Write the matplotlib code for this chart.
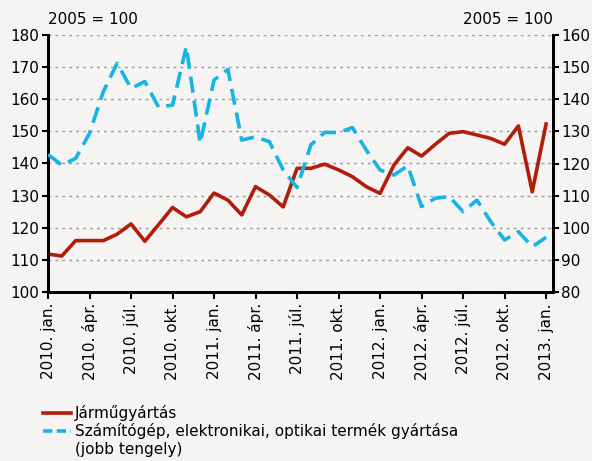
import numpy as np
import matplotlib
matplotlib.use("Agg")
from matplotlib import pyplot as plt
from matplotlib.lines import Line2D

# monthly data, 2010 jan .. 2013 jan
jarmu = [111.8, 111.2, 116.0, 116.0, 116.0, 118.0, 121.2, 115.8, 121.0, 126.3,
         123.4, 125.0, 130.8, 128.6, 124.0, 132.8, 130.2, 126.5, 138.5, 138.5,
         139.8, 138.0, 135.9, 132.8, 130.7, 139.5, 144.9, 142.3, 146.0, 149.4,
         149.9, 148.9, 147.8, 146.0, 151.7, 131.2, 152.3]
szamitogep = [122.8, 119.5, 121.6, 129.4, 142.4, 151.2, 143.4, 145.5, 137.5, 138.2,
              156.4, 126.3, 146.0, 149.3, 127.3, 128.3, 126.8, 118.0, 112.5, 125.8,
              129.7, 129.6, 131.2, 124.2, 118.0, 116.4, 119.3, 106.6, 109.2, 109.7,
              105.0, 108.6, 101.9, 96.2, 98.8, 94.1, 97.0]
tick_labels = ["2010. jan.", "2010. ápr.", "2010. júl.", "2010. okt.",
               "2011. jan.", "2011. ápr.", "2011. júl.", "2011. okt.",
               "2012. jan.", "2012. ápr.", "2012. júl.", "2012. okt.",
               "2013. jan."]
left_ticks = list(range(100, 181, 10))
right_ticks = list(range(80, 161, 10))

bg = "#f5f4f2"
red = "#b01e0a"
blue = "#16b4e4"
fs = 11

plt.rcParams['font.family'] = ['DejaVu Sans']

fig = plt.figure(figsize=(5.92, 4.61), dpi=100, facecolor=bg)
ax = fig.add_axes([48 / 592, 1 - 292 / 461, 505 / 592, 257 / 461])
ax.set_facecolor(bg)
ax2 = ax.twinx()

x = np.arange(len(jarmu))
l1, = ax.plot(x, jarmu, color=red, lw=2.6, zorder=3)
l2, = ax2.plot(x, szamitogep, color=blue, lw=2.6, dashes=(4.5, 2.2), zorder=3)

ax.set_xlim(0, 36.5)
ax.set_ylim(100, 180)
ax2.set_ylim(80, 160)
ax.set_yticks(left_ticks)
ax2.set_yticks(right_ticks)
ax.set_xticks(np.arange(0, 37, 3))
ax.set_xticklabels(tick_labels, rotation=90, fontsize=fs)
ax.tick_params(axis='y', labelsize=fs, width=1.5, length=4, pad=2)
ax2.tick_params(axis='y', labelsize=fs, width=1.5, length=4, pad=2)
ax.tick_params(axis='x', width=1.5, length=5, pad=3)

for a in (ax, ax2):
    a.spines['top'].set_visible(False)
    for s in ('left', 'right', 'bottom'):
        a.spines[s].set_linewidth(2)
ax.grid(axis='y', color='#999999', linestyle=(0, (2, 3)), lw=1)
ax.set_axisbelow(True)

fig.text(48 / 592, 1 - 20 / 461, "2005 = 100", fontsize=fs, ha='left', va='center')
fig.text(553 / 592, 1 - 20 / 461, "2005 = 100", fontsize=fs, ha='right', va='center')

# legend handle for the blue series sits on the first text line only
blank = Line2D([], [], color='none')
leg_handle2 = Line2D([], [], color=blue, lw=2.6, dashes=(2.6, 1.2))
fig.legend([l1, leg_handle2, blank],
           ["Járműgyártás",
            "Számítógép, elektronikai, optikai termék gyártása",
            "(jobb tengely)"],
           loc='upper left', bbox_to_anchor=(43 / 592, 1 - 405 / 461),
           frameon=False, fontsize=fs, handlelength=1.8, handletextpad=0.3,
           labelspacing=0.15, borderpad=0, borderaxespad=0)

fig.savefig("out.png", dpi=100, facecolor=bg)
